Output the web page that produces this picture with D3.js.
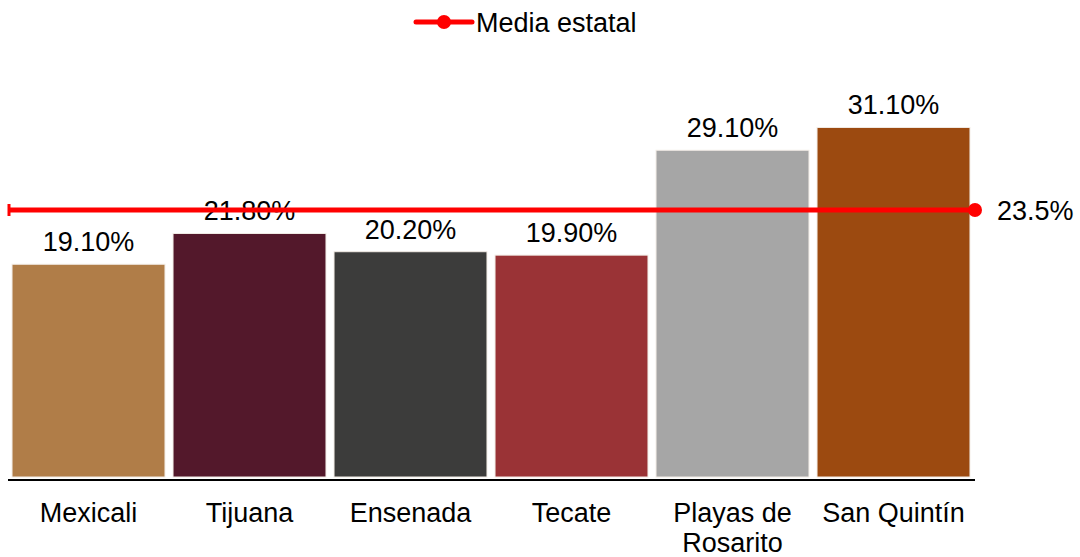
<!DOCTYPE html>
<html>
<head>
<meta charset="utf-8">
<script src="https://cdn.jsdelivr.net/npm/d3@7"></script>
<style>
  body { margin: 0; background: #fff; }
  text { font-family: "Liberation Sans", Arial, sans-serif; fill: #000; }
</style>
</head>
<body>
<svg id="chart" width="1080" height="557"></svg>
<script>
// data
var municipios = ["Mexicali", "Tijuana", "Ensenada", "Tecate", "Playas de Rosarito", "San Quintín"];
var porcentajes = [19.1, 21.8, 20.2, 19.9, 29.1, 31.1];
var mediaEstatal = 23.5;
var colores = ["#B07D48", "#53182B", "#3C3C3B", "#9A3336", "#A6A6A6", "#9C4A10"];

var svg = d3.select("#chart");
var fontSize = 27;

var xScale = d3.scaleBand()
    .domain(municipios)
    .range([8, 974])
    .paddingInner(0.05)
    .paddingOuter(0.025);

var yScale = d3.scaleLinear()
    .domain([0, 35])
    .range([482, 482 - 35 * 11.4]);

// the state average sits on its own (secondary) scale, like the original
var y2Scale = d3.scaleLinear()
    .domain([0, 35])
    .range([480, 480 - 35 * 11.49]);

// bars
svg.selectAll("rect.bar")
    .data(municipios)
    .enter()
    .append("rect")
    .attr("class", "bar")
    .attr("x", function(d){ return xScale(d); })
    .attr("y", function(d, i){ return yScale(porcentajes[i]); })
    .attr("width", xScale.bandwidth())
    .attr("height", function(d, i){ return yScale(0) - yScale(porcentajes[i]) - 5; })
    .attr("fill", function(d, i){ return colores[i]; })
    .attr("stroke", "#f2ece6")
    .attr("stroke-width", 1);

// value labels
svg.selectAll("text.valor")
    .data(municipios)
    .enter()
    .append("text")
    .attr("class", "valor")
    .attr("x", function(d){ return xScale(d) + xScale.bandwidth() / 2; })
    .attr("y", function(d, i){ return yScale(porcentajes[i]) - 13; })
    .attr("text-anchor", "middle")
    .attr("font-size", fontSize)
    .text(function(d, i){ return porcentajes[i].toFixed(2) + "%"; });

// baseline
var xr = xScale.range();
svg.append("line")
    .attr("x1", xr[0]).attr("x2", xr[1] + 1)
    .attr("y1", 480).attr("y2", 480)
    .attr("stroke", "#000")
    .attr("stroke-width", 2);

// category labels (wrap "Playas de Rosarito")
svg.selectAll("text.cat")
    .data(municipios)
    .enter()
    .append("text")
    .attr("class", "cat")
    .attr("text-anchor", "middle")
    .attr("font-size", fontSize)
    .each(function(d){
        var lines = d === "Playas de Rosarito" ? ["Playas de", "Rosarito"] : [d];
        var t = d3.select(this);
        lines.forEach(function(l, k){
            t.append("tspan")
                .attr("x", xScale(d) + xScale.bandwidth() / 2)
                .attr("y", 522 + k * 30)
                .text(l);
        });
    });

// state average line
var yMedia = y2Scale(mediaEstatal);
svg.append("line")
    .attr("x1", xr[0] + 1).attr("x2", xr[1] + 1)
    .attr("y1", yMedia).attr("y2", yMedia)
    .attr("stroke", "#FF0000")
    .attr("stroke-width", 5);
svg.append("line")
    .attr("x1", xr[0] + 1).attr("x2", xr[0] + 1)
    .attr("y1", yMedia - 6).attr("y2", yMedia + 6)
    .attr("stroke", "#FF0000")
    .attr("stroke-width", 3);
svg.append("circle")
    .attr("cx", xr[1] + 1)
    .attr("cy", yMedia)
    .attr("r", 7)
    .attr("fill", "#FF0000");
svg.append("text")
    .attr("x", 997)
    .attr("y", yMedia + 10)
    .attr("font-size", fontSize)
    .text(mediaEstatal.toFixed(1) + "%");

// legend
var legend = svg.append("g").attr("transform", "translate(416,22)");
legend.append("line")
    .attr("x1", 0).attr("x2", 56)
    .attr("y1", 0).attr("y2", 0)
    .attr("stroke", "#FF0000")
    .attr("stroke-width", 5)
    .attr("stroke-linecap", "round");
legend.append("circle")
    .attr("cx", 28).attr("cy", 0).attr("r", 7)
    .attr("fill", "#FF0000");
legend.append("text")
    .attr("x", 60)
    .attr("y", 10)
    .attr("font-size", fontSize)
    .text("Media estatal");
</script>
</body>
</html>
